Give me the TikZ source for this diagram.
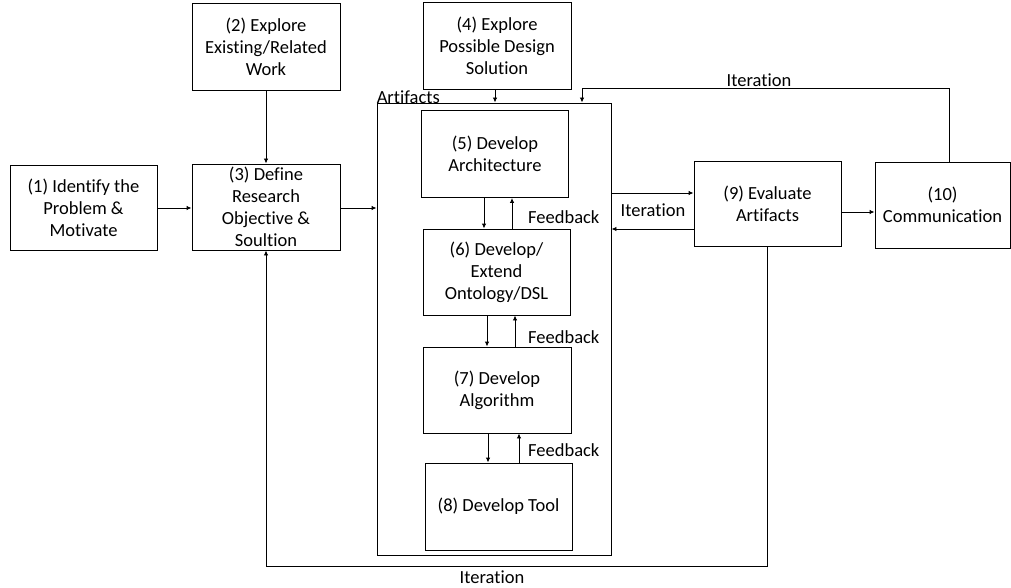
\documentclass[tikz,border=0pt]{standalone}
\usepackage{fontspec}
\setmainfont{Carlito}[Ligatures=NoCommon]
\usetikzlibrary{arrows.meta}
\begin{document}
\begin{tikzpicture}[x=1pt,y=-1pt,
  every node/.style={font=\fontsize{18.5}{22}\selectfont},
  stepbox/.style={draw=black,line width=0.9pt,align=center,inner sep=0pt},
  link/.style={line width=0.9pt,-{Latex[length=5pt,width=4.5pt]}},
  wire/.style={line width=0.9pt},
  lbl/.style={inner sep=0pt}]
\useasboundingbox (0,0) rectangle (1011,588);

% process boxes
\node[stepbox,minimum width=147,minimum height=85] (b1) at (83.5,207.5) {(1) Identify the\\Problem \&\\Motivate};
\node[stepbox,minimum width=148,minimum height=87] (b2) at (266,46.5) {(2) Explore\\Existing/Related\\Work};
\node[stepbox,minimum width=148,minimum height=86] (b3) at (266,207) {(3) Define\\Research\\Objective \&\\Soultion};
\node[stepbox,minimum width=148,minimum height=87] (b4) at (497,45.5) {(4) Explore\\Possible Design\\Solution};

% artifacts container
\node[stepbox,minimum width=234,minimum height=452] (art) at (494,329) {};
\node[lbl,anchor=south west] (artlbl) at ([yshift=-1]art.north west) {Artifacts};

\node[stepbox,minimum width=147,minimum height=87] (b5) at (495,154) {(5) Develop\\Architecture};
\node[stepbox,minimum width=147,minimum height=86] (b6) at (496.5,272) {(6) Develop/\\Extend\\Ontology/DSL};
\node[stepbox,minimum width=148,minimum height=86] (b7) at (497,390) {(7) Develop\\Algorithm};
\node[stepbox,minimum width=147,minimum height=87] (b8) at (498.5,506.5) {(8) Develop Tool};

\node[stepbox,minimum width=147,minimum height=85] (b9) at (767.5,203.5) {(9) Evaluate\\Artifacts};
\node[stepbox,minimum width=135,minimum height=86] (b10) at (942.5,205) {(10)\\Communication};

% main flow
\draw[link] (b1.east |- 0,208) -- (b3.west |- 0,208);
\draw[link] (b2) -- (b3);
\draw[link] (b3.east |- 0,208) -- (art.west |- 0,208);
\draw[link] ([xshift=-2]b4.south) -- ([xshift=-2]b4.south |- art.north);

% develop / feedback pairs
\draw[link] ([xshift=-11]b5.south) -- ([xshift=-11]b5.south |- b6.north);
\draw[link] ([xshift=17]b5.south |- b6.north) -- ([xshift=17]b5.south);
\node[lbl,anchor=west] (fb1) at (528,217) {Feedback};

\draw[link] ([xshift=-9.5]b6.south) -- ([xshift=-9.5]b6.south |- b7.north);
\draw[link] ([xshift=18.5]b6.south |- b7.north) -- ([xshift=18.5]b6.south);
\node[lbl,anchor=west] (fb2) at (528,337) {Feedback};

\draw[link] ([xshift=-9]b7.south) -- ([xshift=-9]b7.south |- b8.north);
\draw[link] ([xshift=22]b7.south |- b8.north) -- ([xshift=22]b7.south);
\node[lbl,anchor=west] (fb3) at (528,450) {Feedback};

% evaluation loop
\draw[link] (art.east |- 0,193) -- (b9.west |- 0,193);
\draw[link] (b9.west |- 0,229) -- (art.east |- 0,229);
\node[lbl] (it1) at (653,210) {Iteration};
\draw[link] (b9.east |- 0,212) -- (b10.west |- 0,212);

% iteration back from communication
\coordinate (topc) at (949,88);
\draw[link] ([xshift=6.5]b10.north) -- ([xshift=6.5]b10.north |- topc) -- (582,88) -- (582,88 |- art.north);
\node[lbl] (it2) at (759,80) {Iteration};

% iteration back to research objective
\coordinate (botc) at (767,566);
\draw[link] (b9.south -| botc) -- (botc) -- (botc -| b3.south) -- (b3.south);
\node[lbl] (it3) at (492,577) {Iteration};
\end{tikzpicture}
\end{document}
